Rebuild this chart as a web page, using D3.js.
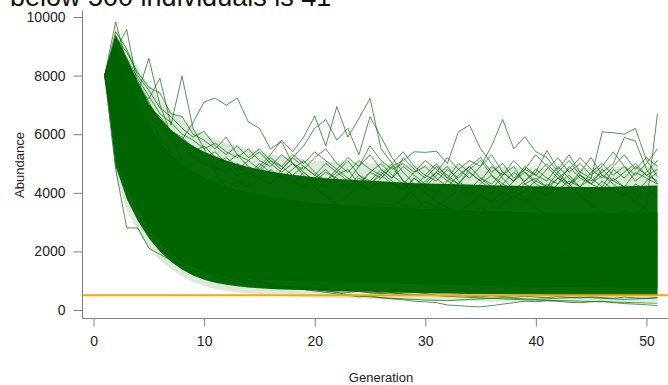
<!DOCTYPE html>
<html>
<head>
<meta charset="utf-8">
<script src="https://cdn.jsdelivr.net/npm/d3@7"></script>
<style>
  body { margin: 0; background: #fff; }
  svg { display: block; }
  text { font-family: "Liberation Sans", Arial, sans-serif; }
</style>
</head>
<body>
<svg id="chart" width="668" height="385"></svg>
<script>
// generations 1..51
const generations = [1, 2, 3, 4, 5, 6, 7, 8, 9, 10, 11, 12, 13, 14, 15, 16, 17, 18, 19, 20,
  21, 22, 23, 24, 25, 26, 27, 28, 29, 30, 31, 32, 33, 34, 35, 36, 37, 38, 39, 40,
  41, 42, 43, 44, 45, 46, 47, 48, 49, 50, 51];

const xTicks = [0, 10, 20, 30, 40, 50];
const yTicks = [0, 2000, 4000, 6000, 8000, 10000];
const threshold = 500;
const titleText = "below 500 individuals is 41";

// envelope of the solid mass of runs
const coreHi = [8000, 9100, 8000, 7100, 6300, 5750, 5300, 4950, 4700, 4500,
  4350, 4200, 4100, 4000, 3900, 3850, 3800, 3750, 3700, 3650,
  3620, 3600, 3580, 3560, 3540, 3520, 3500, 3480, 3460, 3450,
  3440, 3420, 3400, 3400, 3380, 3370, 3360, 3350, 3340, 3330,
  3330, 3320, 3320, 3310, 3310, 3300, 3300, 3310, 3320, 3330, 3340];
const coreLo = [8000, 5300, 4200, 3400, 2800, 2300, 1950, 1650, 1450, 1300,
  1200, 1150, 1100, 1070, 1050, 1030, 1010, 1000, 990, 980,
  970, 960, 950, 940, 930, 920, 910, 900, 890, 880,
  870, 860, 850, 840, 830, 820, 815, 810, 805, 800,
  795, 790, 785, 780, 775, 770, 765, 760, 755, 750, 750];

// dense fringe of runs around the mass
const fringeHi = [8000, 9400, 8600, 7800, 7050, 6550, 6150, 5850, 5600, 5400,
  5250, 5100, 4980, 4880, 4800, 4730, 4670, 4620, 4570, 4530,
  4500, 4470, 4450, 4430, 4410, 4390, 4370, 4350, 4330, 4320,
  4310, 4300, 4290, 4280, 4270, 4260, 4250, 4240, 4230, 4220,
  4220, 4210, 4210, 4200, 4200, 4200, 4210, 4220, 4230, 4240, 4250];
const fringeLo = [8000, 4900, 3800, 3050, 2450, 2000, 1650, 1380, 1180, 1030,
  930, 860, 810, 770, 740, 720, 700, 690, 680, 670,
  660, 650, 640, 630, 620, 610, 600, 590, 580, 570,
  565, 560, 555, 550, 545, 540, 535, 530, 525, 520,
  515, 510, 505, 500, 500, 500, 500, 500, 500, 500, 500];

// sparse outer runs
const sparseHi = [8000, 9600, 9000, 8300, 7700, 7200, 6800, 6500, 6200, 6000,
  5850, 5700, 5600, 5500, 5400, 5300, 5250, 5200, 5150, 5100,
  5080, 5060, 5040, 5020, 5000, 4990, 4980, 4970, 4960, 4950,
  4940, 4930, 4920, 4910, 4900, 4890, 4880, 4870, 4860, 4850,
  4850, 4850, 4850, 4850, 4860, 4870, 4880, 4890, 4900, 4910, 4920];
const sparseLo = [8000, 4600, 3400, 2700, 2100, 1700, 1400, 1150, 950, 820,
  720, 650, 600, 560, 530, 500, 480, 460, 440, 430,
  420, 410, 400, 390, 380, 370, 360, 350, 340, 330,
  320, 310, 300, 290, 280, 280, 280, 280, 280, 280,
  280, 280, 280, 280, 280, 280, 280, 280, 280, 280, 280];

// individual runs that stick out of the mass
const run1 = [8000, 9830, 8400, 7300, 6400, 5200, 4500, 4000, 3700, 3400,
  3100, 2900, 3000, 2800, 2600, 2700, 2500, 2400, 2600, 2300,
  2200, 2400, 2100, 2300, 2000, 2200, 2400, 2100, 1900, 2200,
  2000, 2300, 2100, 1900, 2100, 2300, 2000, 1800, 2100, 1900,
  2200, 2000, 1800, 2100, 2300, 2000, 1900, 2200, 2000, 1800, 2000];
const run2 = [8000, 8900, 9570, 7620, 6900, 5800, 5000, 4400, 3900, 3500,
  3300, 3000, 2800, 3100, 2900, 2600, 2800, 2500, 2700, 2400,
  2600, 2300, 2500, 2200, 2400, 2600, 2300, 2100, 2400, 2200,
  2500, 2300, 2000, 2200, 2400, 2100, 2300, 2500, 2200, 2000,
  2300, 2100, 2400, 2200, 2000, 2300, 2100, 2400, 2200, 2000, 2300];
const run3 = [8000, 8600, 8100, 7400, 8590, 7000, 6000, 5100, 4400, 3900,
  3600, 3300, 3100, 2900, 3200, 2800, 2600, 2900, 2700, 2500,
  2800, 2600, 2400, 2700, 2500, 2300, 2600, 2400, 2200, 2500,
  2300, 2100, 2400, 2200, 2500, 2300, 2100, 2400, 2200, 2000,
  2300, 2100, 2400, 2200, 2500, 2300, 2100, 2400, 2200, 2000, 2200];
const run4 = [8000, 8800, 8300, 7500, 7200, 7910, 6310, 7980, 6200, 5500,
  4700, 4200, 3800, 3500, 3200, 3000, 2800, 3100, 2900, 2700,
  2500, 2800, 2600, 2400, 2700, 2500, 2300, 2600, 2400, 2200,
  2500, 2300, 2600, 2400, 2200, 2500, 2300, 2100, 2400, 2200,
  2500, 2300, 2100, 2400, 2200, 2000, 2300, 2100, 2400, 2200, 2000];
const run5 = [8000, 8500, 7900, 7000, 6600, 6300, 6000, 5800, 6400, 7100,
  7230, 6990, 7230, 6420, 6200, 5500, 5740, 5000, 4600, 4200,
  3900, 3600, 3400, 3100, 2900, 3200, 2900, 2700, 3000, 2800,
  2600, 2900, 2700, 2500, 2800, 2600, 2400, 2700, 2500, 2300,
  2600, 2400, 2200, 2500, 2300, 2100, 2400, 2200, 2500, 2300, 2100];
const run6 = [8000, 8700, 7800, 6900, 6100, 5500, 5000, 4700, 4500, 4300,
  4100, 4400, 4200, 4600, 4900, 5300, 5800, 5400, 5900, 6620,
  5600, 6940, 5900, 6540, 7220, 5500, 5000, 4400, 3900, 3500,
  3200, 2900, 3100, 2800, 2600, 2900, 2700, 2500, 2800, 2600,
  2400, 2700, 2500, 2300, 2600, 2400, 2200, 2500, 2300, 2100, 2400];
const run7 = [8000, 9100, 8200, 7300, 6500, 5900, 5400, 5000, 4700, 4500,
  4300, 4100, 4400, 4200, 4500, 4300, 4800, 5200, 5600, 6200,
  6500, 5800, 6200, 5300, 6600, 5900, 5200, 4700, 4300, 4000,
  3700, 3500, 3300, 3100, 2900, 3200, 3000, 2800, 2600, 2900,
  2700, 2500, 2800, 2600, 2400, 2700, 2500, 2300, 2600, 2400, 2200];
const run8 = [8000, 8400, 7600, 6700, 6000, 5400, 4900, 4500, 4200, 4000,
  3800, 3600, 3400, 3200, 3000, 2800, 3100, 2900, 2700, 3000,
  3300, 3600, 3900, 4300, 4700, 4500, 4900, 5100, 5400, 5380,
  5420, 5000, 6080, 6310, 5500, 5000, 4500, 4100, 3800, 3500,
  3200, 3000, 2800, 3100, 2900, 2700, 3000, 2800, 2600, 2900, 2700];
const run9 = [8000, 8200, 7400, 6600, 5900, 5300, 4800, 4400, 4100, 3900,
  3700, 3500, 3300, 3100, 2900, 2700, 3000, 2800, 2600, 2900,
  2700, 2500, 2800, 2600, 2900, 3200, 3500, 3800, 4100, 4400,
  4700, 4400, 4800, 5100, 4900, 5600, 6500, 5500, 5910, 5400,
  5200, 4700, 4300, 3900, 3600, 3300, 3000, 3200, 2900, 2700, 2900];
const run10 = [8000, 8000, 7200, 6400, 5700, 5100, 4600, 4200, 3900, 3700,
  3500, 3300, 3100, 2900, 2700, 2900, 2700, 2500, 2800, 2600,
  2400, 2700, 2500, 2300, 2600, 2400, 2200, 2500, 2300, 2600,
  2800, 3100, 2900, 3200, 3500, 3300, 3600, 3900, 3700, 4000,
  4300, 4100, 4400, 4200, 4500, 6080, 6050, 6000, 6200, 5120, 4550];
const run11 = [8000, 8300, 7500, 6700, 6000, 5400, 4900, 4500, 4200, 3900,
  3700, 3500, 3300, 3100, 2900, 3200, 3000, 2800, 3100, 2900,
  2700, 3000, 2800, 2600, 2900, 2700, 3000, 3300, 3100, 3400,
  3200, 3500, 3300, 3600, 3900, 3700, 4000, 3800, 4100, 4400,
  4200, 4500, 4300, 4600, 4400, 4700, 5000, 5890, 5760, 4800, 4300];
const run12 = [8000, 8600, 7700, 6800, 6100, 5500, 5000, 4600, 4300, 4000,
  3800, 3600, 3400, 3200, 3000, 2800, 3100, 2900, 2700, 3000,
  2800, 2600, 2900, 2700, 2500, 2800, 2600, 2400, 2700, 2500,
  2800, 2600, 2400, 2700, 2500, 2800, 2600, 2900, 2700, 3000,
  2800, 3100, 2900, 3200, 3000, 3300, 3100, 3400, 3200, 3600, 6700];
const run13 = [8000, 4800, 2800, 2800, 2110, 1900, 1700, 1500, 1350, 1250,
  1200, 1300, 1150, 1100, 1200, 1050, 1100, 1000, 1150, 1050,
  1000, 1100, 950, 1050, 1000, 900, 1000, 950, 1050, 900,
  1000, 950, 900, 1000, 950, 900, 1000, 900, 950, 1000,
  900, 950, 850, 900, 1000, 950, 900, 850, 950, 900, 850];
const run14 = [8000, 6000, 5000, 4000, 3300, 2800, 2400, 2100, 1800, 1600,
  1400, 1300, 1150, 1000, 950, 850, 800, 750, 700, 650,
  600, 550, 500, 450, 480, 420, 380, 350, 300, 280,
  250, 170, 150, 120, 110, 150, 200, 250, 300, 280,
  320, 300, 260, 250, 280, 300, 250, 220, 200, 180, 150];
const run15 = [8000, 6400, 5200, 4300, 3500, 2900, 2500, 2200, 1900, 1700,
  1500, 1350, 1200, 1100, 1000, 900, 850, 800, 750, 700,
  650, 600, 520, 480, 450, 420, 400, 380, 360, 340,
  330, 320, 340, 360, 380, 400, 420, 400, 380, 360,
  380, 400, 420, 440, 420, 400, 380, 360, 380, 400, 420];
const run16 = [8000, 8900, 8000, 7100, 6300, 5700, 5200, 4800, 4500, 4200,
  4000, 3800, 3600, 3400, 3200, 3000, 2800, 3100, 2900, 2700,
  3000, 2800, 3100, 2900, 3200, 3500, 3300, 3600, 3400, 3700,
  3500, 3800, 4100, 3900, 4200, 4000, 4300, 4100, 4400, 4700,
  5450, 4800, 5300, 4700, 5200, 4600, 4300, 4000, 3700, 3400, 3100];

// runs along the upper and lower edge of the mass
const edge1 = [8000, 9200, 8300, 7500, 6800, 6200, 5800, 5500, 5200, 5000,
  4800, 4900, 4600, 4700, 4400, 4800, 4500, 4300, 4700, 4400,
  4200, 4600, 4800, 4300, 4100, 4500, 4900, 4400, 4200, 4600,
  5000, 4500, 4300, 4700, 4400, 4100, 4600, 4900, 4300, 4500,
  4200, 4700, 5100, 4600, 4300, 4800, 4400, 4200, 4700, 4500, 4300];
const edge2 = [8000, 8800, 8400, 7700, 7000, 6500, 6000, 5700, 5400, 5600,
  5200, 5000, 5300, 4900, 4700, 5100, 4800, 5200, 4900, 4600,
  5000, 4700, 4400, 4900, 5300, 4800, 4500, 4900, 4600, 4300,
  4700, 5200, 4800, 4500, 4900, 5300, 4700, 4400, 4800, 4600,
  4400, 4900, 4500, 4200, 4700, 5000, 4600, 4900, 4400, 4700, 5100];
const edge3 = [8000, 9300, 8600, 7900, 7300, 6700, 6400, 6000, 5800, 5500,
  5700, 5400, 5200, 5500, 5100, 4900, 5300, 5000, 4800, 5200,
  5500, 5000, 4700, 5100, 4800, 4600, 5000, 5400, 4900, 4600,
  4400, 4800, 4500, 4900, 5200, 4700, 5000, 4500, 4800, 5300,
  4900, 4500, 4800, 5200, 4800, 4500, 4900, 5300, 4800, 5200, 4900];
const edge4 = [8000, 9000, 8100, 7600, 6900, 6600, 6100, 5900, 5500, 5300,
  5000, 5200, 4900, 4600, 5000, 4700, 4500, 4800, 5100, 4700,
  4400, 4800, 4500, 4300, 4700, 5000, 4600, 4300, 4700, 4900,
  4500, 4200, 4600, 4900, 4500, 4300, 4700, 4400, 4900, 4600,
  5000, 4600, 4300, 4700, 4500, 4200, 4800, 4500, 4900, 4600, 4800];
const edge5 = [8000, 9500, 8900, 8000, 7500, 6900, 6600, 6200, 5900, 6100,
  5600, 5300, 5600, 5200, 5500, 5100, 4900, 5300, 5000, 5400,
  5100, 4800, 5200, 4900, 5600, 5100, 4800, 5000, 4700, 5100,
  4800, 4500, 5000, 4700, 4400, 4900, 4600, 5100, 4700, 4400,
  4800, 5200, 4700, 5000, 4600, 4900, 5400, 4900, 4600, 5000, 5500];
const edge6 = [8000, 8700, 7900, 7200, 6700, 6300, 5900, 5600, 5300, 5100,
  4900, 4700, 5000, 4700, 4500, 4300, 4600, 4400, 4200, 4500,
  4800, 4400, 4100, 4500, 4300, 4700, 4400, 4100, 4500, 4200,
  4600, 4900, 4400, 4100, 4500, 4200, 4000, 4400, 4700, 4300,
  4100, 4500, 4200, 4600, 4300, 4100, 4500, 4200, 4000, 4400, 4700];
const edge7 = [8000, 9100, 8500, 7800, 7100, 6400, 6100, 5700, 5600, 5200,
  5400, 5000, 4800, 5100, 4800, 5200, 4900, 4600, 4900, 4600,
  4400, 4700, 5100, 4600, 4400, 4800, 4500, 5200, 4800, 4500,
  4900, 4600, 4300, 4800, 5100, 4600, 4300, 4700, 4400, 4800,
  4500, 4300, 4900, 4500, 4300, 4600, 4400, 4700, 5000, 4600, 4400];
const edge8 = [8000, 9300, 8800, 8100, 7600, 7400, 6700, 6600, 6000, 5800,
  5500, 5900, 5300, 5100, 5400, 5000, 4700, 5000, 4700, 4400,
  4700, 4500, 4200, 4600, 4300, 4600, 4300, 4100, 4500, 4200,
  4000, 4400, 4200, 4000, 4300, 4600, 4200, 4000, 4300, 4100,
  3900, 4300, 4600, 4200, 4000, 4400, 4100, 3900, 4300, 4100, 3900];
const edge9 = [8000, 5600, 4400, 3500, 2900, 2400, 2000, 1700, 1500, 1300,
  1150, 1050, 950, 900, 850, 800, 760, 720, 700, 680,
  650, 620, 600, 640, 580, 560, 600, 540, 520, 560,
  500, 480, 520, 470, 450, 490, 460, 430, 470, 440,
  420, 460, 430, 410, 450, 420, 400, 440, 410, 390, 420];
const edge10 = [8000, 5800, 4600, 3700, 3000, 2500, 2100, 1800, 1600, 1400,
  1250, 1150, 1050, 980, 920, 870, 830, 790, 750, 720,
  700, 680, 650, 630, 610, 590, 570, 550, 530, 510,
  490, 470, 450, 430, 410, 400, 380, 360, 350, 340,
  330, 320, 310, 300, 290, 280, 270, 260, 250, 240, 230];

const runs = [run1, run2, run3, run4, run5, run6, run7, run8,
  run9, run10, run11, run12, run13, run14, run15, run16,
  edge1, edge2, edge3, edge4, edge5, edge6, edge7, edge8, edge9, edge10];

const green = "#006400";
const svg = d3.select("#chart");

const x = d3.scaleLinear().domain([-1, 53]).range([82.5, 679.6]);
const y = d3.scaleLinear().domain([0, 10000]).range([310, 17]);

// bands, drawn outer to inner
function band(lo, hi, opacity) {
  const area = d3.area()
    .x((d, i) => x(generations[i]))
    .y0((d, i) => y(lo[i]))
    .y1((d, i) => y(hi[i]));
  svg.append("path")
    .datum(generations)
    .attr("d", area)
    .attr("fill", green)
    .attr("fill-opacity", opacity);
}
band(sparseLo, sparseHi, 0.14);
band(fringeLo, fringeHi, 0.97);
band(coreLo, coreHi, 1);

// single runs
const line = d3.line()
  .x((d, i) => x(generations[i]))
  .y(d => y(d));
svg.append("g")
  .selectAll("path")
  .data(runs)
  .enter()
  .append("path")
  .attr("d", line)
  .attr("fill", "none")
  .attr("stroke", green)
  .attr("stroke-opacity", 0.68)
  .attr("stroke-width", 1);

// threshold line
svg.append("line")
  .attr("x1", x(-1)).attr("x2", 668)
  .attr("y1", y(threshold)).attr("y2", y(threshold))
  .attr("stroke", "#FFA500")
  .attr("stroke-width", 2);

// L shaped frame
const frameColor = "#808080";
svg.append("path")
  .attr("d", `M${x(-1)},10.5V318.5H668`)
  .attr("fill", "none")
  .attr("stroke", frameColor)
  .attr("stroke-width", 1);

// y axis
const yAxis = svg.append("g")
  .attr("transform", `translate(${x(-1)},0)`)
  .call(d3.axisLeft(y).tickValues(yTicks).tickSize(9).tickPadding(8).tickFormat(d3.format("d")));
yAxis.select(".domain").remove();
yAxis.selectAll("line").attr("stroke", frameColor);
yAxis.selectAll("text").attr("font-size", 14).attr("fill", "#222")
  .style("font-family", "'Liberation Sans', Arial, sans-serif");

// x axis
const xAxis = svg.append("g")
  .attr("transform", "translate(0,318.5)")
  .call(d3.axisBottom(x).tickValues(xTicks).tickSize(8).tickPadding(10).tickFormat(d3.format("d")));
xAxis.select(".domain").remove();
xAxis.selectAll("line").attr("stroke", frameColor);
xAxis.selectAll("text").attr("font-size", 14).attr("fill", "#222")
  .style("font-family", "'Liberation Sans', Arial, sans-serif");

// axis titles
svg.append("text")
  .attr("x", 381).attr("y", 382)
  .attr("text-anchor", "middle")
  .attr("font-size", 13)
  .attr("fill", "#222")
  .text("Generation");

svg.append("text")
  .attr("transform", "translate(24,165) rotate(-90)")
  .attr("text-anchor", "middle")
  .attr("font-size", 13)
  .attr("fill", "#222")
  .text("Abundance");

// main title, mostly cut off at the top like in the source image
svg.append("text")
  .attr("x", 10).attr("y", 6)
  .attr("font-size", 27)
  .attr("fill", "#111")
  .text(titleText);
</script>
</body>
</html>
